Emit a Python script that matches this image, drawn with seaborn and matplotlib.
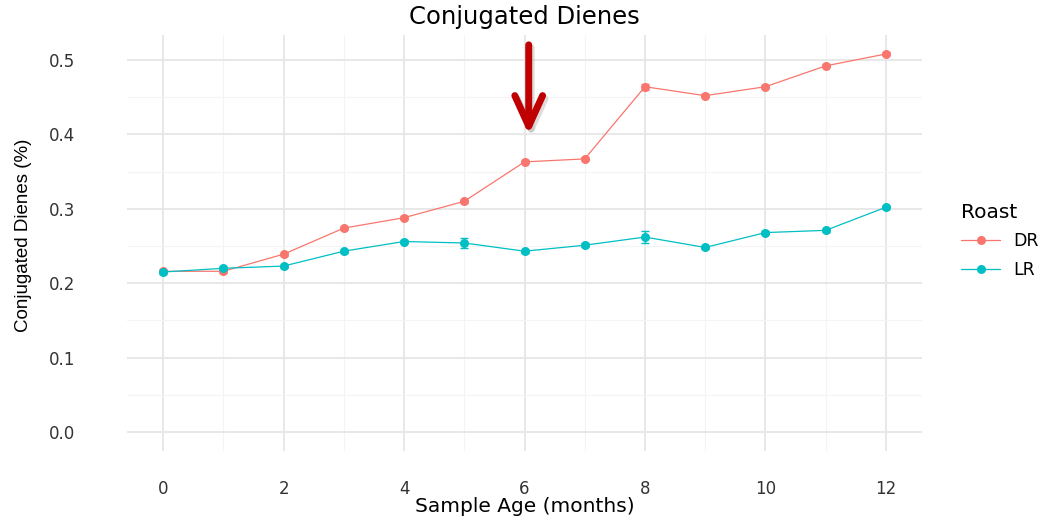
import matplotlib.pyplot as plt
import numpy as np
import pandas as pd
import seaborn as sns

months = [0, 1, 2, 3, 4, 5, 6, 7, 8, 9, 10, 11, 12]
dr_mean = [0.216, 0.216, 0.239, 0.274, 0.288, 0.310, 0.363, 0.367, 0.464, 0.452, 0.464, 0.492, 0.508]
dr_err = [0.002, 0.002, 0.002, 0.002, 0.002, 0.002, 0.002, 0.002, 0.004, 0.002, 0.002, 0.002, 0.002]
lr_mean = [0.215, 0.220, 0.223, 0.243, 0.256, 0.254, 0.243, 0.251, 0.262, 0.248, 0.268, 0.271, 0.302]
lr_err = [0.002, 0.002, 0.002, 0.002, 0.002, 0.007, 0.002, 0.003, 0.008, 0.002, 0.002, 0.002, 0.002]
roasts = ['DR', 'LR']
colors = {'DR': '#F8766D', 'LR': '#00BFC4'}

# arrow pointing at month 6 (drawn a touch right of the gridline, like the original)
arrow_x = 6.07
arrow_top = 0.524
arrow_tip = 0.396

df = pd.concat([
    pd.DataFrame({'Month': months, 'CD': dr_mean, 'err': dr_err, 'Roast': 'DR'}),
    pd.DataFrame({'Month': months, 'CD': lr_mean, 'err': lr_err, 'Roast': 'LR'}),
])

sns.set_style('white')
plt.rcParams['font.family'] = ['DejaVu Sans']

fig = plt.figure(figsize=(10.43, 5.2), dpi=100)
ax = fig.add_axes([127 / 1043, 1 - 451 / 520, 795 / 1043, 416 / 520])

for r in roasts:
    sub = df[df['Roast'] == r]
    ax.errorbar(sub['Month'], sub['CD'], yerr=sub['err'], fmt='none',
                ecolor=colors[r], elinewidth=1.0, capsize=3, capthick=1.0, zorder=2)

sns.lineplot(data=df, x='Month', y='CD', hue='Roast', palette=colors,
             marker='o', markersize=6.5, markeredgewidth=0, linewidth=0.9,
             ax=ax, zorder=3)

ax.set_xlim(-0.6, 12.6)
ax.set_ylim(-0.0255, 0.5335)
ax.set_xticks(np.arange(0, 13, 2))
ax.set_xticks(np.arange(1, 13, 2), minor=True)
ax.set_yticks(np.arange(0, 0.51, 0.1))
ax.set_yticks(np.arange(0.05, 0.5, 0.1), minor=True)
ax.set_yticklabels(['0.0', '0.1', '0.2', '0.3', '0.4', '0.5'])
ax.grid(which='major', color='#E6E6E6', linewidth=1.3)
ax.grid(which='minor', color='#F4F4F4', linewidth=0.8)
ax.set_axisbelow(True)
for s in ax.spines.values():
    s.set_visible(False)
ax.tick_params(which='both', length=0)
ax.tick_params(axis='x', pad=21, labelsize=12, labelcolor='#333333')
ax.tick_params(axis='y', pad=37, labelsize=12, labelcolor='#333333')

ax.set_xlabel('')
ax.set_ylabel('')
fig.text(524.5 / 1043, 1 - 507 / 520, 'Sample Age (months)', ha='center', va='center',
         fontsize=14.5, color='black')
fig.text(24 / 1043, 1 - 235 / 520, 'Conjugated Dienes (%)', rotation=90,
         ha='center', va='center', fontsize=13.5, family=['Liberation Sans'], color='black')
fig.text(524.5 / 1043, 1 - 17 / 520, 'Conjugated Dienes', ha='center', va='center',
         fontsize=17.5, color='black')

# faint shadow, then the arrow itself
ax.annotate('', xy=(arrow_x + 0.04, arrow_tip - 0.004), xytext=(arrow_x + 0.04, arrow_top - 0.004),
            arrowprops=dict(arrowstyle='->,head_length=1.1,head_width=0.5',
                            mutation_scale=20, color='#BBBBBB', lw=5, alpha=0.5),
            zorder=4)
ax.annotate('', xy=(arrow_x, arrow_tip), xytext=(arrow_x, arrow_top),
            arrowprops=dict(arrowstyle='->,head_length=1.1,head_width=0.5',
                            mutation_scale=20, color='#C00000', lw=5),
            zorder=5)

leg = ax.legend(title='Roast', frameon=False, loc='center left',
                bbox_to_anchor=(1.03, 0.505), fontsize=12.5, title_fontsize=14.5,
                handlelength=2.2, labelspacing=0.6, alignment='left')
plt.setp(leg.get_texts(), color='black')
leg.get_title().set_color('black')

fig.savefig('out.png', dpi=100)
